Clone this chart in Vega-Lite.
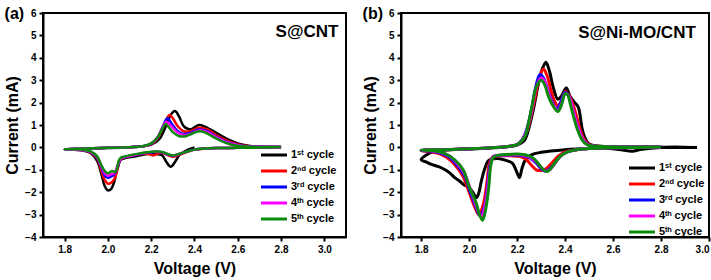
{
"$schema":"https://vega.github.io/schema/vega-lite/v6.json",
"padding":{"left":3,"top":5,"right":4,"bottom":0},
"config":{"font":"Liberation Sans","view":{"stroke":"black","strokeWidth":2},
"axis":{"grid":false,"labelFont":"Liberation Sans","labelFontWeight":"bold","labelFontSize":10,"labelColor":"black","labelOverlap":false,"titleFont":"Liberation Sans","titleFontWeight":"bold","titleFontSize":16,"titleColor":"black","domainColor":"black","domainWidth":2,"tickColor":"black","tickWidth":2,"tickSize":4,"labelPadding":3},
"legend":{"orient":"none","title":null,"symbolType":"M-2,0H2","symbolStrokeWidth":3,"symbolSize":169,"labelFont":"Liberation Sans","labelFontSize":11,"labelFontWeight":"bold","labelColor":"black","rowPadding":2,"padding":0},
"title":{"font":"Liberation Sans","fontSize":16,"fontWeight":"bold","color":"black"}},
"datasets":{"cv":[
{"p":"a","c":1,"i":1,"v":2.4,"y":0},{"p":"a","c":1,"i":2,"v":2.37,"y":-0.1},{"p":"a","c":1,"i":3,"v":2.33,"y":-0.35},{"p":"a","c":1,"i":4,"v":2.31,"y":-0.65},{"p":"a","c":1,"i":5,"v":2.29,"y":-0.86},{"p":"a","c":1,"i":6,"v":2.27,"y":-0.65},{"p":"a","c":1,"i":7,"v":2.25,"y":-0.35},{"p":"a","c":1,"i":8,"v":2.22,"y":-0.3},{"p":"a","c":1,"i":9,"v":2.18,"y":-0.3},{"p":"a","c":1,"i":10,"v":2.13,"y":-0.4},{"p":"a","c":1,"i":11,"v":2.08,"y":-0.48},{"p":"a","c":1,"i":12,"v":2.06,"y":-0.55},{"p":"a","c":1,"i":13,"v":2.045,"y":-0.9},{"p":"a","c":1,"i":14,"v":2.03,"y":-1.5},{"p":"a","c":1,"i":15,"v":2.015,"y":-1.85},{"p":"a","c":1,"i":16,"v":2.0,"y":-1.92},{"p":"a","c":1,"i":17,"v":1.985,"y":-1.72},{"p":"a","c":1,"i":18,"v":1.97,"y":-1.2},{"p":"a","c":1,"i":19,"v":1.95,"y":-0.6},{"p":"a","c":1,"i":20,"v":1.92,"y":-0.25},{"p":"a","c":1,"i":21,"v":1.88,"y":-0.13},{"p":"a","c":1,"i":22,"v":1.8,"y":-0.09},
{"p":"a","c":1,"i":23,"v":1.9,"y":-0.06},{"p":"a","c":1,"i":24,"v":2.0,"y":-0.03},{"p":"a","c":1,"i":25,"v":2.1,"y":0.01},{"p":"a","c":1,"i":26,"v":2.16,"y":0.05},{"p":"a","c":1,"i":27,"v":2.2,"y":0.12},{"p":"a","c":1,"i":28,"v":2.24,"y":0.4},{"p":"a","c":1,"i":29,"v":2.27,"y":1.0},{"p":"a","c":1,"i":30,"v":2.29,"y":1.45},{"p":"a","c":1,"i":31,"v":2.31,"y":1.62},{"p":"a","c":1,"i":32,"v":2.33,"y":1.35},{"p":"a","c":1,"i":33,"v":2.35,"y":0.95},{"p":"a","c":1,"i":34,"v":2.38,"y":0.8},{"p":"a","c":1,"i":35,"v":2.42,"y":1.0},{"p":"a","c":1,"i":36,"v":2.45,"y":0.92},{"p":"a","c":1,"i":37,"v":2.5,"y":0.65},{"p":"a","c":1,"i":38,"v":2.55,"y":0.38},{"p":"a","c":1,"i":39,"v":2.6,"y":0.18},{"p":"a","c":1,"i":40,"v":2.65,"y":0.07},{"p":"a","c":1,"i":41,"v":2.7,"y":0.03},{"p":"a","c":1,"i":42,"v":2.8,"y":0.02},

{"p":"a","c":2,"i":1,"v":2.8,"y":0.01},{"p":"a","c":2,"i":2,"v":2.7,"y":-0.01},{"p":"a","c":2,"i":3,"v":2.6,"y":-0.02},{"p":"a","c":2,"i":4,"v":2.5,"y":-0.03},{"p":"a","c":2,"i":5,"v":2.45,"y":-0.05},{"p":"a","c":2,"i":6,"v":2.4,"y":-0.1},{"p":"a","c":2,"i":7,"v":2.36,"y":-0.22},{"p":"a","c":2,"i":8,"v":2.32,"y":-0.36},{"p":"a","c":2,"i":9,"v":2.3,"y":-0.42},{"p":"a","c":2,"i":10,"v":2.28,"y":-0.36},{"p":"a","c":2,"i":11,"v":2.25,"y":-0.24},{"p":"a","c":2,"i":12,"v":2.23,"y":-0.28},{"p":"a","c":2,"i":13,"v":2.21,"y":-0.36},{"p":"a","c":2,"i":14,"v":2.19,"y":-0.3},{"p":"a","c":2,"i":15,"v":2.15,"y":-0.3},{"p":"a","c":2,"i":16,"v":2.1,"y":-0.4},{"p":"a","c":2,"i":17,"v":2.07,"y":-0.47},{"p":"a","c":2,"i":18,"v":2.055,"y":-0.6},{"p":"a","c":2,"i":19,"v":2.045,"y":-0.95},{"p":"a","c":2,"i":20,"v":2.03,"y":-1.4},{"p":"a","c":2,"i":21,"v":2.015,"y":-1.58},{"p":"a","c":2,"i":22,"v":2.0,"y":-1.62},{"p":"a","c":2,"i":23,"v":1.985,"y":-1.45},{"p":"a","c":2,"i":24,"v":1.97,"y":-1.05},{"p":"a","c":2,"i":25,"v":1.95,"y":-0.5},{"p":"a","c":2,"i":26,"v":1.92,"y":-0.22},{"p":"a","c":2,"i":27,"v":1.88,"y":-0.12},{"p":"a","c":2,"i":28,"v":1.8,"y":-0.08},
{"p":"a","c":2,"i":29,"v":1.9,"y":-0.05},{"p":"a","c":2,"i":30,"v":2.0,"y":-0.02},{"p":"a","c":2,"i":31,"v":2.1,"y":0.01},{"p":"a","c":2,"i":32,"v":2.16,"y":0.05},{"p":"a","c":2,"i":33,"v":2.2,"y":0.15},{"p":"a","c":2,"i":34,"v":2.23,"y":0.4},{"p":"a","c":2,"i":35,"v":2.25,"y":0.8},{"p":"a","c":2,"i":36,"v":2.27,"y":1.25},{"p":"a","c":2,"i":37,"v":2.285,"y":1.45},{"p":"a","c":2,"i":38,"v":2.3,"y":1.3},{"p":"a","c":2,"i":39,"v":2.32,"y":0.98},{"p":"a","c":2,"i":40,"v":2.35,"y":0.72},{"p":"a","c":2,"i":41,"v":2.38,"y":0.72},{"p":"a","c":2,"i":42,"v":2.42,"y":0.88},{"p":"a","c":2,"i":43,"v":2.46,"y":0.8},{"p":"a","c":2,"i":44,"v":2.5,"y":0.55},{"p":"a","c":2,"i":45,"v":2.55,"y":0.3},{"p":"a","c":2,"i":46,"v":2.6,"y":0.14},{"p":"a","c":2,"i":47,"v":2.65,"y":0.05},{"p":"a","c":2,"i":48,"v":2.7,"y":0.03},{"p":"a","c":2,"i":49,"v":2.8,"y":0.02},

{"p":"a","c":3,"i":1,"v":2.8,"y":0.01},{"p":"a","c":3,"i":2,"v":2.7,"y":-0.01},{"p":"a","c":3,"i":3,"v":2.6,"y":-0.02},{"p":"a","c":3,"i":4,"v":2.5,"y":-0.03},{"p":"a","c":3,"i":5,"v":2.45,"y":-0.05},{"p":"a","c":3,"i":6,"v":2.4,"y":-0.1},{"p":"a","c":3,"i":7,"v":2.36,"y":-0.2},{"p":"a","c":3,"i":8,"v":2.32,"y":-0.33},{"p":"a","c":3,"i":9,"v":2.3,"y":-0.38},{"p":"a","c":3,"i":10,"v":2.28,"y":-0.33},{"p":"a","c":3,"i":11,"v":2.25,"y":-0.22},{"p":"a","c":3,"i":12,"v":2.22,"y":-0.2},{"p":"a","c":3,"i":13,"v":2.18,"y":-0.24},{"p":"a","c":3,"i":14,"v":2.13,"y":-0.33},{"p":"a","c":3,"i":15,"v":2.08,"y":-0.43},{"p":"a","c":3,"i":16,"v":2.06,"y":-0.5},{"p":"a","c":3,"i":17,"v":2.045,"y":-0.85},{"p":"a","c":3,"i":18,"v":2.03,"y":-1.2},{"p":"a","c":3,"i":19,"v":2.015,"y":-1.3},{"p":"a","c":3,"i":20,"v":2.0,"y":-1.36},{"p":"a","c":3,"i":21,"v":1.985,"y":-1.25},{"p":"a","c":3,"i":22,"v":1.97,"y":-0.9},{"p":"a","c":3,"i":23,"v":1.95,"y":-0.45},{"p":"a","c":3,"i":24,"v":1.92,"y":-0.2},{"p":"a","c":3,"i":25,"v":1.88,"y":-0.12},{"p":"a","c":3,"i":26,"v":1.8,"y":-0.08},
{"p":"a","c":3,"i":27,"v":1.9,"y":-0.05},{"p":"a","c":3,"i":28,"v":2.0,"y":-0.02},{"p":"a","c":3,"i":29,"v":2.1,"y":0.01},{"p":"a","c":3,"i":30,"v":2.16,"y":0.05},{"p":"a","c":3,"i":31,"v":2.2,"y":0.16},{"p":"a","c":3,"i":32,"v":2.23,"y":0.45},{"p":"a","c":3,"i":33,"v":2.25,"y":0.85},{"p":"a","c":3,"i":34,"v":2.275,"y":1.3},{"p":"a","c":3,"i":35,"v":2.295,"y":1.05},{"p":"a","c":3,"i":36,"v":2.32,"y":0.75},{"p":"a","c":3,"i":37,"v":2.35,"y":0.6},{"p":"a","c":3,"i":38,"v":2.38,"y":0.65},{"p":"a","c":3,"i":39,"v":2.42,"y":0.8},{"p":"a","c":3,"i":40,"v":2.46,"y":0.72},{"p":"a","c":3,"i":41,"v":2.5,"y":0.48},{"p":"a","c":3,"i":42,"v":2.55,"y":0.24},{"p":"a","c":3,"i":43,"v":2.6,"y":0.11},{"p":"a","c":3,"i":44,"v":2.65,"y":0.04},{"p":"a","c":3,"i":45,"v":2.7,"y":0.03},{"p":"a","c":3,"i":46,"v":2.8,"y":0.02},

{"p":"a","c":4,"i":1,"v":2.8,"y":0.01},{"p":"a","c":4,"i":2,"v":2.7,"y":-0.01},{"p":"a","c":4,"i":3,"v":2.6,"y":-0.02},{"p":"a","c":4,"i":4,"v":2.5,"y":-0.03},{"p":"a","c":4,"i":5,"v":2.45,"y":-0.05},{"p":"a","c":4,"i":6,"v":2.4,"y":-0.1},{"p":"a","c":4,"i":7,"v":2.36,"y":-0.2},{"p":"a","c":4,"i":8,"v":2.32,"y":-0.32},{"p":"a","c":4,"i":9,"v":2.3,"y":-0.37},{"p":"a","c":4,"i":10,"v":2.28,"y":-0.32},{"p":"a","c":4,"i":11,"v":2.25,"y":-0.21},{"p":"a","c":4,"i":12,"v":2.22,"y":-0.19},{"p":"a","c":4,"i":13,"v":2.18,"y":-0.23},{"p":"a","c":4,"i":14,"v":2.13,"y":-0.32},{"p":"a","c":4,"i":15,"v":2.08,"y":-0.42},{"p":"a","c":4,"i":16,"v":2.06,"y":-0.5},{"p":"a","c":4,"i":17,"v":2.045,"y":-0.8},{"p":"a","c":4,"i":18,"v":2.03,"y":-1.15},{"p":"a","c":4,"i":19,"v":2.015,"y":-1.2},{"p":"a","c":4,"i":20,"v":2.0,"y":-1.26},{"p":"a","c":4,"i":21,"v":1.985,"y":-1.15},{"p":"a","c":4,"i":22,"v":1.97,"y":-0.85},{"p":"a","c":4,"i":23,"v":1.95,"y":-0.42},{"p":"a","c":4,"i":24,"v":1.92,"y":-0.2},{"p":"a","c":4,"i":25,"v":1.88,"y":-0.12},{"p":"a","c":4,"i":26,"v":1.8,"y":-0.08},
{"p":"a","c":4,"i":27,"v":1.9,"y":-0.05},{"p":"a","c":4,"i":28,"v":2.0,"y":-0.02},{"p":"a","c":4,"i":29,"v":2.1,"y":0.01},{"p":"a","c":4,"i":30,"v":2.16,"y":0.05},{"p":"a","c":4,"i":31,"v":2.2,"y":0.17},{"p":"a","c":4,"i":32,"v":2.23,"y":0.47},{"p":"a","c":4,"i":33,"v":2.25,"y":0.85},{"p":"a","c":4,"i":34,"v":2.27,"y":1.15},{"p":"a","c":4,"i":35,"v":2.29,"y":0.98},{"p":"a","c":4,"i":36,"v":2.32,"y":0.68},{"p":"a","c":4,"i":37,"v":2.35,"y":0.55},{"p":"a","c":4,"i":38,"v":2.38,"y":0.6},{"p":"a","c":4,"i":39,"v":2.42,"y":0.76},{"p":"a","c":4,"i":40,"v":2.46,"y":0.68},{"p":"a","c":4,"i":41,"v":2.5,"y":0.45},{"p":"a","c":4,"i":42,"v":2.55,"y":0.22},{"p":"a","c":4,"i":43,"v":2.6,"y":0.1},{"p":"a","c":4,"i":44,"v":2.65,"y":0.04},{"p":"a","c":4,"i":45,"v":2.7,"y":0.03},{"p":"a","c":4,"i":46,"v":2.8,"y":0.02},

{"p":"a","c":5,"i":1,"v":2.8,"y":0.02},{"p":"a","c":5,"i":2,"v":2.7,"y":-0.01},{"p":"a","c":5,"i":3,"v":2.6,"y":-0.02},{"p":"a","c":5,"i":4,"v":2.5,"y":-0.03},{"p":"a","c":5,"i":5,"v":2.45,"y":-0.05},{"p":"a","c":5,"i":6,"v":2.4,"y":-0.1},{"p":"a","c":5,"i":7,"v":2.36,"y":-0.2},{"p":"a","c":5,"i":8,"v":2.32,"y":-0.31},{"p":"a","c":5,"i":9,"v":2.3,"y":-0.36},{"p":"a","c":5,"i":10,"v":2.28,"y":-0.31},{"p":"a","c":5,"i":11,"v":2.25,"y":-0.2},{"p":"a","c":5,"i":12,"v":2.22,"y":-0.18},{"p":"a","c":5,"i":13,"v":2.18,"y":-0.22},{"p":"a","c":5,"i":14,"v":2.13,"y":-0.3},{"p":"a","c":5,"i":15,"v":2.08,"y":-0.4},{"p":"a","c":5,"i":16,"v":2.06,"y":-0.45},{"p":"a","c":5,"i":17,"v":2.05,"y":-0.6},{"p":"a","c":5,"i":18,"v":2.04,"y":-1.0},{"p":"a","c":5,"i":19,"v":2.03,"y":-1.1},{"p":"a","c":5,"i":20,"v":2.02,"y":-1.05},{"p":"a","c":5,"i":21,"v":2.01,"y":-1.1},{"p":"a","c":5,"i":22,"v":2.0,"y":-1.16},{"p":"a","c":5,"i":23,"v":1.985,"y":-1.05},{"p":"a","c":5,"i":24,"v":1.97,"y":-0.8},{"p":"a","c":5,"i":25,"v":1.95,"y":-0.4},{"p":"a","c":5,"i":26,"v":1.92,"y":-0.18},{"p":"a","c":5,"i":27,"v":1.88,"y":-0.1},{"p":"a","c":5,"i":28,"v":1.8,"y":-0.08},
{"p":"a","c":5,"i":29,"v":1.9,"y":-0.05},{"p":"a","c":5,"i":30,"v":2.0,"y":-0.02},{"p":"a","c":5,"i":31,"v":2.1,"y":0.01},{"p":"a","c":5,"i":32,"v":2.16,"y":0.05},{"p":"a","c":5,"i":33,"v":2.2,"y":0.18},{"p":"a","c":5,"i":34,"v":2.23,"y":0.45},{"p":"a","c":5,"i":35,"v":2.25,"y":0.8},{"p":"a","c":5,"i":36,"v":2.265,"y":1.05},{"p":"a","c":5,"i":37,"v":2.28,"y":0.92},{"p":"a","c":5,"i":38,"v":2.3,"y":0.68},{"p":"a","c":5,"i":39,"v":2.33,"y":0.5},{"p":"a","c":5,"i":40,"v":2.36,"y":0.5},{"p":"a","c":5,"i":41,"v":2.39,"y":0.62},{"p":"a","c":5,"i":42,"v":2.42,"y":0.72},{"p":"a","c":5,"i":43,"v":2.45,"y":0.66},{"p":"a","c":5,"i":44,"v":2.48,"y":0.5},{"p":"a","c":5,"i":45,"v":2.52,"y":0.3},{"p":"a","c":5,"i":46,"v":2.56,"y":0.15},{"p":"a","c":5,"i":47,"v":2.6,"y":0.07},{"p":"a","c":5,"i":48,"v":2.65,"y":0.03},{"p":"a","c":5,"i":49,"v":2.7,"y":0.02},{"p":"a","c":5,"i":50,"v":2.8,"y":0.02},

{"p":"b","c":1,"i":1,"v":2.95,"y":0},{"p":"b","c":1,"i":2,"v":2.8,"y":0},{"p":"b","c":1,"i":3,"v":2.72,"y":-0.08},{"p":"b","c":1,"i":4,"v":2.68,"y":-0.17},{"p":"b","c":1,"i":5,"v":2.64,"y":-0.12},{"p":"b","c":1,"i":6,"v":2.58,"y":-0.05},{"p":"b","c":1,"i":7,"v":2.5,"y":-0.05},{"p":"b","c":1,"i":8,"v":2.4,"y":-0.1},{"p":"b","c":1,"i":9,"v":2.3,"y":-0.22},{"p":"b","c":1,"i":10,"v":2.26,"y":-0.33},{"p":"b","c":1,"i":11,"v":2.235,"y":-0.55},{"p":"b","c":1,"i":12,"v":2.22,"y":-0.95},{"p":"b","c":1,"i":13,"v":2.21,"y":-1.35},{"p":"b","c":1,"i":14,"v":2.195,"y":-1.0},{"p":"b","c":1,"i":15,"v":2.18,"y":-0.7},{"p":"b","c":1,"i":16,"v":2.15,"y":-0.57},{"p":"b","c":1,"i":17,"v":2.12,"y":-0.5},{"p":"b","c":1,"i":18,"v":2.095,"y":-0.52},{"p":"b","c":1,"i":19,"v":2.08,"y":-0.6},{"p":"b","c":1,"i":20,"v":2.065,"y":-0.95},{"p":"b","c":1,"i":21,"v":2.05,"y":-1.55},{"p":"b","c":1,"i":22,"v":2.04,"y":-2.05},{"p":"b","c":1,"i":23,"v":2.03,"y":-2.25},{"p":"b","c":1,"i":24,"v":2.015,"y":-2.0},{"p":"b","c":1,"i":25,"v":2.0,"y":-1.8},{"p":"b","c":1,"i":26,"v":1.98,"y":-1.68},{"p":"b","c":1,"i":27,"v":1.96,"y":-1.5},{"p":"b","c":1,"i":28,"v":1.94,"y":-1.35},{"p":"b","c":1,"i":29,"v":1.92,"y":-1.15},{"p":"b","c":1,"i":30,"v":1.9,"y":-1.0},{"p":"b","c":1,"i":31,"v":1.87,"y":-0.85},{"p":"b","c":1,"i":32,"v":1.84,"y":-0.75},{"p":"b","c":1,"i":33,"v":1.82,"y":-0.65},{"p":"b","c":1,"i":34,"v":1.8,"y":-0.55},
{"p":"b","c":1,"i":35,"v":1.82,"y":-0.35},{"p":"b","c":1,"i":36,"v":1.85,"y":-0.2},{"p":"b","c":1,"i":37,"v":1.9,"y":-0.12},{"p":"b","c":1,"i":38,"v":2.0,"y":-0.07},{"p":"b","c":1,"i":39,"v":2.1,"y":-0.02},{"p":"b","c":1,"i":40,"v":2.2,"y":0.1},{"p":"b","c":1,"i":41,"v":2.23,"y":0.3},{"p":"b","c":1,"i":42,"v":2.25,"y":0.9},{"p":"b","c":1,"i":43,"v":2.27,"y":1.8},{"p":"b","c":1,"i":44,"v":2.29,"y":2.9},{"p":"b","c":1,"i":45,"v":2.305,"y":3.5},{"p":"b","c":1,"i":46,"v":2.32,"y":3.8},{"p":"b","c":1,"i":47,"v":2.335,"y":3.4},{"p":"b","c":1,"i":48,"v":2.35,"y":2.7},{"p":"b","c":1,"i":49,"v":2.37,"y":2.15},{"p":"b","c":1,"i":50,"v":2.385,"y":2.3},{"p":"b","c":1,"i":51,"v":2.405,"y":2.65},{"p":"b","c":1,"i":52,"v":2.42,"y":2.3},{"p":"b","c":1,"i":53,"v":2.44,"y":2.0},{"p":"b","c":1,"i":54,"v":2.455,"y":1.8},{"p":"b","c":1,"i":55,"v":2.47,"y":0.9},{"p":"b","c":1,"i":56,"v":2.48,"y":0.5},{"p":"b","c":1,"i":57,"v":2.5,"y":0.15},{"p":"b","c":1,"i":58,"v":2.55,"y":0.05},{"p":"b","c":1,"i":59,"v":2.6,"y":0.03},{"p":"b","c":1,"i":60,"v":2.8,"y":0.01},{"p":"b","c":1,"i":61,"v":2.95,"y":0.0},

{"p":"b","c":2,"i":1,"v":2.8,"y":0.02},{"p":"b","c":2,"i":2,"v":2.6,"y":-0.02},{"p":"b","c":2,"i":3,"v":2.5,"y":-0.05},{"p":"b","c":2,"i":4,"v":2.45,"y":-0.1},{"p":"b","c":2,"i":5,"v":2.4,"y":-0.2},{"p":"b","c":2,"i":6,"v":2.37,"y":-0.4},{"p":"b","c":2,"i":7,"v":2.34,"y":-0.75},{"p":"b","c":2,"i":8,"v":2.32,"y":-0.95},{"p":"b","c":2,"i":9,"v":2.3,"y":-1.03},{"p":"b","c":2,"i":10,"v":2.28,"y":-1.0},{"p":"b","c":2,"i":11,"v":2.26,"y":-0.8},{"p":"b","c":2,"i":12,"v":2.24,"y":-0.55},{"p":"b","c":2,"i":13,"v":2.21,"y":-0.4},{"p":"b","c":2,"i":14,"v":2.15,"y":-0.37},{"p":"b","c":2,"i":15,"v":2.1,"y":-0.42},{"p":"b","c":2,"i":16,"v":2.085,"y":-0.7},{"p":"b","c":2,"i":17,"v":2.075,"y":-1.5},{"p":"b","c":2,"i":18,"v":2.06,"y":-2.5},{"p":"b","c":2,"i":19,"v":2.04,"y":-3.0},{"p":"b","c":2,"i":20,"v":2.025,"y":-2.7},{"p":"b","c":2,"i":21,"v":2.0,"y":-2.0},{"p":"b","c":2,"i":22,"v":1.975,"y":-1.3},{"p":"b","c":2,"i":23,"v":1.95,"y":-0.9},{"p":"b","c":2,"i":24,"v":1.92,"y":-0.55},{"p":"b","c":2,"i":25,"v":1.88,"y":-0.3},{"p":"b","c":2,"i":26,"v":1.84,"y":-0.2},{"p":"b","c":2,"i":27,"v":1.8,"y":-0.15},
{"p":"b","c":2,"i":28,"v":1.9,"y":-0.1},{"p":"b","c":2,"i":29,"v":2.0,"y":-0.06},{"p":"b","c":2,"i":30,"v":2.1,"y":-0.01},{"p":"b","c":2,"i":31,"v":2.15,"y":0.03},{"p":"b","c":2,"i":32,"v":2.2,"y":0.12},{"p":"b","c":2,"i":33,"v":2.22,"y":0.3},{"p":"b","c":2,"i":34,"v":2.24,"y":0.7},{"p":"b","c":2,"i":35,"v":2.26,"y":1.5},{"p":"b","c":2,"i":36,"v":2.28,"y":2.5},{"p":"b","c":2,"i":37,"v":2.295,"y":3.2},{"p":"b","c":2,"i":38,"v":2.31,"y":3.5},{"p":"b","c":2,"i":39,"v":2.325,"y":3.2},{"p":"b","c":2,"i":40,"v":2.34,"y":2.6},{"p":"b","c":2,"i":41,"v":2.355,"y":2.1},{"p":"b","c":2,"i":42,"v":2.37,"y":1.85},{"p":"b","c":2,"i":43,"v":2.385,"y":2.1},{"p":"b","c":2,"i":44,"v":2.4,"y":2.5},{"p":"b","c":2,"i":45,"v":2.415,"y":2.35},{"p":"b","c":2,"i":46,"v":2.43,"y":2.0},{"p":"b","c":2,"i":47,"v":2.445,"y":1.5},{"p":"b","c":2,"i":48,"v":2.46,"y":0.9},{"p":"b","c":2,"i":49,"v":2.475,"y":0.45},{"p":"b","c":2,"i":50,"v":2.495,"y":0.15},{"p":"b","c":2,"i":51,"v":2.53,"y":0.06},{"p":"b","c":2,"i":52,"v":2.6,"y":0.03},{"p":"b","c":2,"i":53,"v":2.8,"y":0.02},

{"p":"b","c":3,"i":1,"v":2.8,"y":0.02},{"p":"b","c":3,"i":2,"v":2.6,"y":-0.02},{"p":"b","c":3,"i":3,"v":2.5,"y":-0.05},{"p":"b","c":3,"i":4,"v":2.45,"y":-0.1},{"p":"b","c":3,"i":5,"v":2.41,"y":-0.2},{"p":"b","c":3,"i":6,"v":2.38,"y":-0.4},{"p":"b","c":3,"i":7,"v":2.35,"y":-0.8},{"p":"b","c":3,"i":8,"v":2.33,"y":-1.0},{"p":"b","c":3,"i":9,"v":2.315,"y":-1.05},{"p":"b","c":3,"i":10,"v":2.3,"y":-0.95},{"p":"b","c":3,"i":11,"v":2.28,"y":-0.7},{"p":"b","c":3,"i":12,"v":2.25,"y":-0.45},{"p":"b","c":3,"i":13,"v":2.21,"y":-0.35},{"p":"b","c":3,"i":14,"v":2.15,"y":-0.35},{"p":"b","c":3,"i":15,"v":2.1,"y":-0.42},{"p":"b","c":3,"i":16,"v":2.088,"y":-0.75},{"p":"b","c":3,"i":17,"v":2.078,"y":-1.6},{"p":"b","c":3,"i":18,"v":2.065,"y":-2.6},{"p":"b","c":3,"i":19,"v":2.045,"y":-3.05},{"p":"b","c":3,"i":20,"v":2.03,"y":-2.7},{"p":"b","c":3,"i":21,"v":2.005,"y":-2.0},{"p":"b","c":3,"i":22,"v":1.98,"y":-1.25},{"p":"b","c":3,"i":23,"v":1.95,"y":-0.8},{"p":"b","c":3,"i":24,"v":1.92,"y":-0.45},{"p":"b","c":3,"i":25,"v":1.88,"y":-0.25},{"p":"b","c":3,"i":26,"v":1.84,"y":-0.17},{"p":"b","c":3,"i":27,"v":1.8,"y":-0.13},
{"p":"b","c":3,"i":28,"v":1.9,"y":-0.1},{"p":"b","c":3,"i":29,"v":2.0,"y":-0.06},{"p":"b","c":3,"i":30,"v":2.1,"y":-0.01},{"p":"b","c":3,"i":31,"v":2.15,"y":0.03},{"p":"b","c":3,"i":32,"v":2.2,"y":0.12},{"p":"b","c":3,"i":33,"v":2.22,"y":0.32},{"p":"b","c":3,"i":34,"v":2.24,"y":0.8},{"p":"b","c":3,"i":35,"v":2.26,"y":1.7},{"p":"b","c":3,"i":36,"v":2.28,"y":2.8},{"p":"b","c":3,"i":37,"v":2.295,"y":3.25},{"p":"b","c":3,"i":38,"v":2.31,"y":3.1},{"p":"b","c":3,"i":39,"v":2.33,"y":2.5},{"p":"b","c":3,"i":40,"v":2.35,"y":1.95},{"p":"b","c":3,"i":41,"v":2.365,"y":1.7},{"p":"b","c":3,"i":42,"v":2.38,"y":1.95},{"p":"b","c":3,"i":43,"v":2.4,"y":2.45},{"p":"b","c":3,"i":44,"v":2.415,"y":2.3},{"p":"b","c":3,"i":45,"v":2.43,"y":1.8},{"p":"b","c":3,"i":46,"v":2.445,"y":1.2},{"p":"b","c":3,"i":47,"v":2.46,"y":0.7},{"p":"b","c":3,"i":48,"v":2.475,"y":0.35},{"p":"b","c":3,"i":49,"v":2.495,"y":0.12},{"p":"b","c":3,"i":50,"v":2.53,"y":0.05},{"p":"b","c":3,"i":51,"v":2.6,"y":0.03},{"p":"b","c":3,"i":52,"v":2.8,"y":0.02},

{"p":"b","c":4,"i":1,"v":2.8,"y":0.02},{"p":"b","c":4,"i":2,"v":2.6,"y":-0.02},{"p":"b","c":4,"i":3,"v":2.5,"y":-0.05},{"p":"b","c":4,"i":4,"v":2.45,"y":-0.1},{"p":"b","c":4,"i":5,"v":2.41,"y":-0.2},{"p":"b","c":4,"i":6,"v":2.38,"y":-0.4},{"p":"b","c":4,"i":7,"v":2.355,"y":-0.75},{"p":"b","c":4,"i":8,"v":2.335,"y":-1.0},{"p":"b","c":4,"i":9,"v":2.32,"y":-1.06},{"p":"b","c":4,"i":10,"v":2.305,"y":-0.95},{"p":"b","c":4,"i":11,"v":2.28,"y":-0.65},{"p":"b","c":4,"i":12,"v":2.25,"y":-0.42},{"p":"b","c":4,"i":13,"v":2.21,"y":-0.33},{"p":"b","c":4,"i":14,"v":2.15,"y":-0.34},{"p":"b","c":4,"i":15,"v":2.1,"y":-0.42},{"p":"b","c":4,"i":16,"v":2.09,"y":-0.75},{"p":"b","c":4,"i":17,"v":2.08,"y":-1.6},{"p":"b","c":4,"i":18,"v":2.067,"y":-2.6},{"p":"b","c":4,"i":19,"v":2.05,"y":-3.1},{"p":"b","c":4,"i":20,"v":2.033,"y":-2.7},{"p":"b","c":4,"i":21,"v":2.008,"y":-1.95},{"p":"b","c":4,"i":22,"v":1.98,"y":-1.15},{"p":"b","c":4,"i":23,"v":1.95,"y":-0.72},{"p":"b","c":4,"i":24,"v":1.92,"y":-0.4},{"p":"b","c":4,"i":25,"v":1.88,"y":-0.22},{"p":"b","c":4,"i":26,"v":1.84,"y":-0.15},{"p":"b","c":4,"i":27,"v":1.8,"y":-0.12},
{"p":"b","c":4,"i":28,"v":1.9,"y":-0.1},{"p":"b","c":4,"i":29,"v":2.0,"y":-0.06},{"p":"b","c":4,"i":30,"v":2.1,"y":-0.01},{"p":"b","c":4,"i":31,"v":2.15,"y":0.03},{"p":"b","c":4,"i":32,"v":2.2,"y":0.12},{"p":"b","c":4,"i":33,"v":2.22,"y":0.31},{"p":"b","c":4,"i":34,"v":2.24,"y":0.75},{"p":"b","c":4,"i":35,"v":2.26,"y":1.6},{"p":"b","c":4,"i":36,"v":2.28,"y":2.7},{"p":"b","c":4,"i":37,"v":2.3,"y":3.1},{"p":"b","c":4,"i":38,"v":2.315,"y":2.95},{"p":"b","c":4,"i":39,"v":2.33,"y":2.45},{"p":"b","c":4,"i":40,"v":2.35,"y":1.9},{"p":"b","c":4,"i":41,"v":2.37,"y":1.65},{"p":"b","c":4,"i":42,"v":2.385,"y":1.95},{"p":"b","c":4,"i":43,"v":2.4,"y":2.4},{"p":"b","c":4,"i":44,"v":2.415,"y":2.3},{"p":"b","c":4,"i":45,"v":2.43,"y":1.8},{"p":"b","c":4,"i":46,"v":2.445,"y":1.2},{"p":"b","c":4,"i":47,"v":2.46,"y":0.7},{"p":"b","c":4,"i":48,"v":2.475,"y":0.35},{"p":"b","c":4,"i":49,"v":2.495,"y":0.12},{"p":"b","c":4,"i":50,"v":2.53,"y":0.05},{"p":"b","c":4,"i":51,"v":2.6,"y":0.03},{"p":"b","c":4,"i":52,"v":2.8,"y":0.02},

{"p":"b","c":5,"i":1,"v":2.8,"y":0.02},{"p":"b","c":5,"i":2,"v":2.7,"y":0.0},{"p":"b","c":5,"i":3,"v":2.6,"y":-0.02},{"p":"b","c":5,"i":4,"v":2.5,"y":-0.05},{"p":"b","c":5,"i":5,"v":2.45,"y":-0.1},{"p":"b","c":5,"i":6,"v":2.41,"y":-0.2},{"p":"b","c":5,"i":7,"v":2.38,"y":-0.4},{"p":"b","c":5,"i":8,"v":2.36,"y":-0.65},{"p":"b","c":5,"i":9,"v":2.34,"y":-0.95},{"p":"b","c":5,"i":10,"v":2.325,"y":-1.08},{"p":"b","c":5,"i":11,"v":2.31,"y":-1.0},{"p":"b","c":5,"i":12,"v":2.29,"y":-0.75},{"p":"b","c":5,"i":13,"v":2.27,"y":-0.5},{"p":"b","c":5,"i":14,"v":2.24,"y":-0.35},{"p":"b","c":5,"i":15,"v":2.2,"y":-0.3},{"p":"b","c":5,"i":16,"v":2.15,"y":-0.32},{"p":"b","c":5,"i":17,"v":2.12,"y":-0.35},{"p":"b","c":5,"i":18,"v":2.1,"y":-0.45},{"p":"b","c":5,"i":19,"v":2.09,"y":-0.8},{"p":"b","c":5,"i":20,"v":2.082,"y":-1.75},{"p":"b","c":5,"i":21,"v":2.07,"y":-2.7},{"p":"b","c":5,"i":22,"v":2.056,"y":-3.25},{"p":"b","c":5,"i":23,"v":2.043,"y":-3.0},{"p":"b","c":5,"i":24,"v":2.03,"y":-2.5},{"p":"b","c":5,"i":25,"v":2.0,"y":-1.75},{"p":"b","c":5,"i":26,"v":1.975,"y":-1.0},{"p":"b","c":5,"i":27,"v":1.94,"y":-0.56},{"p":"b","c":5,"i":28,"v":1.9,"y":-0.28},{"p":"b","c":5,"i":29,"v":1.85,"y":-0.15},{"p":"b","c":5,"i":30,"v":1.8,"y":-0.12},
{"p":"b","c":5,"i":31,"v":1.9,"y":-0.1},{"p":"b","c":5,"i":32,"v":2.0,"y":-0.06},{"p":"b","c":5,"i":33,"v":2.1,"y":-0.01},{"p":"b","c":5,"i":34,"v":2.15,"y":0.03},{"p":"b","c":5,"i":35,"v":2.2,"y":0.12},{"p":"b","c":5,"i":36,"v":2.22,"y":0.3},{"p":"b","c":5,"i":37,"v":2.235,"y":0.55},{"p":"b","c":5,"i":38,"v":2.25,"y":1.2},{"p":"b","c":5,"i":39,"v":2.265,"y":2.0},{"p":"b","c":5,"i":40,"v":2.28,"y":2.7},{"p":"b","c":5,"i":41,"v":2.3,"y":3.0},{"p":"b","c":5,"i":42,"v":2.315,"y":2.8},{"p":"b","c":5,"i":43,"v":2.33,"y":2.3},{"p":"b","c":5,"i":44,"v":2.35,"y":1.85},{"p":"b","c":5,"i":45,"v":2.37,"y":1.6},{"p":"b","c":5,"i":46,"v":2.385,"y":1.9},{"p":"b","c":5,"i":47,"v":2.4,"y":2.4},{"p":"b","c":5,"i":48,"v":2.41,"y":2.35},{"p":"b","c":5,"i":49,"v":2.425,"y":1.8},{"p":"b","c":5,"i":50,"v":2.44,"y":1.2},{"p":"b","c":5,"i":51,"v":2.455,"y":0.7},{"p":"b","c":5,"i":52,"v":2.47,"y":0.35},{"p":"b","c":5,"i":53,"v":2.49,"y":0.13},{"p":"b","c":5,"i":54,"v":2.52,"y":0.06},{"p":"b","c":5,"i":55,"v":2.6,"y":0.03},{"p":"b","c":5,"i":56,"v":2.8,"y":0.02}
]},
"spacing":14,
"resolve":{"scale":{"color":"independent","x":"independent","y":"independent"},"legend":{"color":"independent"}},
"hconcat":[
{"width":303,"height":224,
"title":{"text":"(a)","anchor":"start","frame":"bounds","offset":-14},
"layer":[
{"data":{"name":"cv"},"transform":[{"filter":"datum.p=='a'"}],
"mark":{"type":"line","strokeWidth":2.5,"interpolate":"catmull-rom","clip":true},
"encoding":{
"x":{"field":"v","type":"quantitative","scale":{"domain":[1.7,3.1],"nice":false,"zero":false},"axis":{"values":[1.8,2.0,2.2,2.4,2.6,2.8,3.0],"format":".1f","title":"Voltage (V)","titlePadding":6,"labelOverlap":false}},
"y":{"field":"y","type":"quantitative","scale":{"domain":[-4,6],"nice":false},"axis":{"values":[-4,-3,-2,-1,0,1,2,3,4,5,6],"title":"Current (mA)","titlePadding":4,"labelOverlap":false}},
"color":{"field":"c","type":"nominal","scale":{"domain":[1,2,3,4,5],"range":["#000000","#ff0000","#0000ff","#ff00ff","#0a8a0a"]},
"legend":{"legendX":223,"legendY":134,"labelOffset":9,"labelExpr":"['1ˢᵗ','2ⁿᵈ','3ʳᵈ','4ᵗʰ','5ᵗʰ'][datum.value-1] + ' cycle'"}},
"order":{"field":"i"}}},
{"data":{"values":[{"t":"S@CNT"}]},"mark":{"type":"text","align":"right","baseline":"middle","fontSize":17,"fontWeight":"bold","font":"Liberation Sans","color":"black"},
"encoding":{"x":{"datum":3.065,"type":"quantitative","axis":{"values":[1.8,2.0,2.2,2.4,2.6,2.8,3.0],"format":".1f","title":"Voltage (V)","titlePadding":6,"labelOverlap":false}},"y":{"datum":5.15,"type":"quantitative","axis":{"values":[-4,-3,-2,-1,0,1,2,3,4,5,6],"title":"Current (mA)","titlePadding":4,"labelOverlap":false}},"text":{"field":"t"}}}
]},
{"width":308,"height":224,
"title":{"text":"(b)","anchor":"start","frame":"bounds","offset":-14},
"layer":[
{"data":{"name":"cv"},"transform":[{"filter":"datum.p=='b'"}],
"mark":{"type":"line","strokeWidth":3,"interpolate":"catmull-rom","clip":true},
"encoding":{
"x":{"field":"v","type":"quantitative","scale":{"domain":[1.716,3.0],"nice":false,"zero":false},"axis":{"values":[1.8,2.0,2.2,2.4,2.6,2.8,3.0],"format":".1f","title":"Voltage (V)","titlePadding":6,"labelOverlap":false}},
"y":{"field":"y","type":"quantitative","scale":{"domain":[-4,6],"nice":false},"axis":{"values":[-4,-3,-2,-1,0,1,2,3,4,5,6],"title":"Current (mA)","titlePadding":4,"labelOverlap":false}},
"color":{"field":"c","type":"nominal","scale":{"domain":[1,2,3,4,5],"range":["#000000","#ff0000","#0000ff","#ff00ff","#0a8a0a"]},
"legend":{"legendX":233,"legendY":147,"labelOffset":9,"labelExpr":"['1ˢᵗ','2ⁿᵈ','3ʳᵈ','4ᵗʰ','5ᵗʰ'][datum.value-1] + ' cycle'"}},
"order":{"field":"i"}}},
{"data":{"values":[{"t":"S@Ni-MO/CNT"}]},"mark":{"type":"text","align":"right","baseline":"middle","fontSize":17,"fontWeight":"bold","font":"Liberation Sans","color":"black"},
"encoding":{"x":{"datum":2.945,"type":"quantitative","axis":{"values":[1.8,2.0,2.2,2.4,2.6,2.8,3.0],"format":".1f","title":"Voltage (V)","titlePadding":6,"labelOverlap":false}},"y":{"datum":5.1,"type":"quantitative","axis":{"values":[-4,-3,-2,-1,0,1,2,3,4,5,6],"title":"Current (mA)","titlePadding":4,"labelOverlap":false}},"text":{"field":"t"}}}
]}
]
}
